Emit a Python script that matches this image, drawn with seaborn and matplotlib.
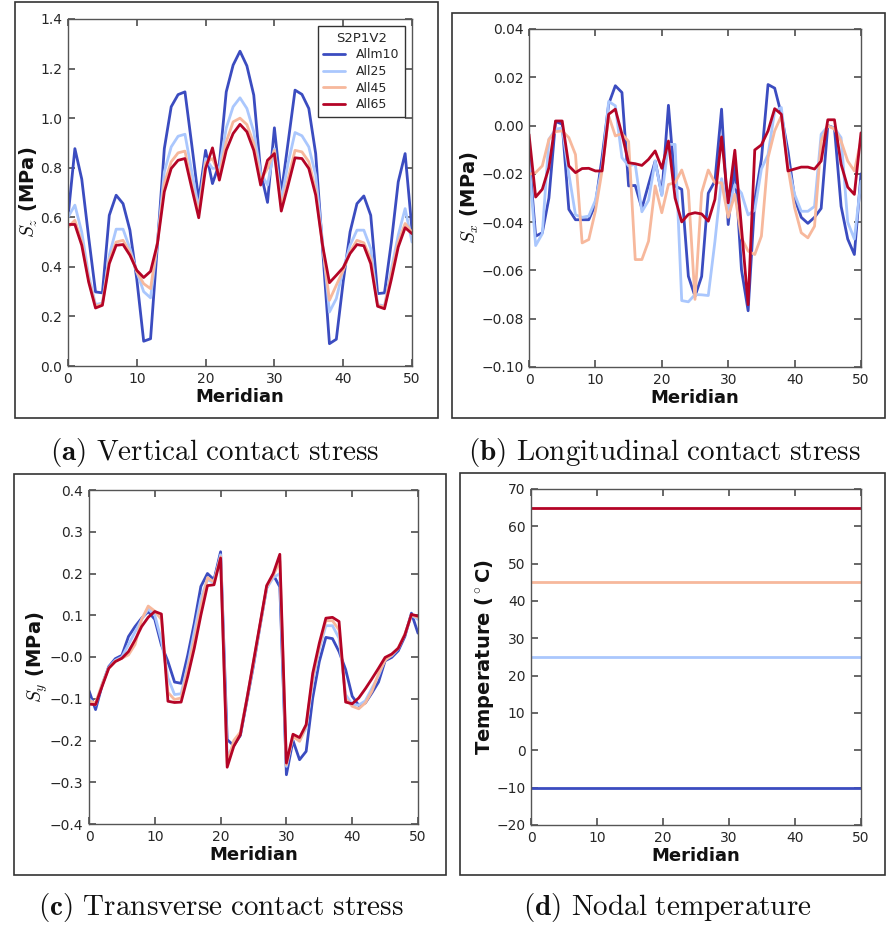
import numpy as np
import pandas as pd
import matplotlib
matplotlib.use("Agg")
import matplotlib.pyplot as plt
from matplotlib.patches import Rectangle
import seaborn as sns

# ---------------------------------------------------------------- data
series = ["Allm10", "All25", "All45", "All65"]
meridian = list(range(51))

# vertical contact stress S_z (MPa)
sz_m10 = [0.60, 0.877, 0.754, 0.52, 0.299, 0.295, 0.608, 0.689, 0.655, 0.548,
          0.35, 0.10, 0.11, 0.49, 0.877, 1.046, 1.095, 1.106, 0.89, 0.669,
          0.87, 0.736, 0.817, 1.106, 1.214, 1.27, 1.211, 1.093, 0.783, 0.66,
          0.961, 0.696, 0.904, 1.113, 1.096, 1.039, 0.857, 0.474, 0.09, 0.108,
          0.34, 0.541, 0.655, 0.686, 0.608, 0.292, 0.295, 0.50, 0.743, 0.857, 0.55]
sz_25 = [0.60, 0.649, 0.54, 0.366, 0.248, 0.254, 0.447, 0.552, 0.552, 0.474,
         0.38, 0.30, 0.275, 0.50, 0.783, 0.884, 0.927, 0.935, 0.783, 0.635,
         0.837, 0.797, 0.80, 0.96, 1.046, 1.082, 1.039, 0.945, 0.78, 0.73,
         0.877, 0.67, 0.82, 0.942, 0.929, 0.884, 0.77, 0.50, 0.218, 0.272,
         0.39, 0.487, 0.548, 0.548, 0.474, 0.248, 0.242, 0.39, 0.528, 0.635, 0.50]
sz_45 = [0.56, 0.588, 0.50, 0.35, 0.241, 0.25, 0.427, 0.50, 0.507, 0.458,
         0.38, 0.332, 0.312, 0.50, 0.736, 0.824, 0.86, 0.867, 0.73, 0.615,
         0.82, 0.837, 0.77, 0.904, 0.985, 1.0, 0.974, 0.898, 0.75, 0.797,
         0.87, 0.642, 0.756, 0.87, 0.864, 0.824, 0.709, 0.487, 0.265, 0.326,
         0.386, 0.46, 0.507, 0.497, 0.433, 0.245, 0.238, 0.373, 0.50, 0.575, 0.54]
sz_65 = [0.571, 0.571, 0.487, 0.339, 0.234, 0.245, 0.413, 0.487, 0.49, 0.447,
         0.386, 0.357, 0.382, 0.494, 0.703, 0.797, 0.83, 0.837, 0.716, 0.598,
         0.797, 0.88, 0.75, 0.87, 0.938, 0.975, 0.945, 0.87, 0.73, 0.83,
         0.857, 0.625, 0.73, 0.84, 0.837, 0.797, 0.69, 0.487, 0.336, 0.366,
         0.397, 0.454, 0.49, 0.485, 0.413, 0.241, 0.231, 0.35, 0.48, 0.558, 0.534]

# longitudinal contact stress S_x (MPa)
sx_m10 = [-0.012, -0.0458, -0.0444, -0.030, 0.0017, 0.0006, -0.0347, -0.039, -0.039, -0.039,
          -0.0327, -0.0133, 0.0089, 0.0165, 0.0137, -0.025, -0.0248, -0.0343, -0.0244, -0.0147,
          -0.0285, 0.0084, -0.025, -0.0264, -0.0624, -0.0707, -0.0625, -0.028, -0.023, 0.0068,
          -0.041, -0.016, -0.0597, -0.0767, -0.031, -0.014, 0.017, 0.0155, 0.0047, -0.0105,
          -0.030, -0.038, -0.0405, -0.038, -0.0343, 0.0, -0.001, -0.0334, -0.047, -0.0534, -0.02]
sx_25 = [-0.015, -0.0497, -0.0448, -0.0057, -0.0015, -0.001, -0.020, -0.037, -0.038, -0.0375,
         -0.031, -0.0174, 0.010, 0.0082, -0.0133, -0.0167, -0.016, -0.0357, -0.031, -0.0147,
         -0.029, -0.0078, -0.0078, -0.0725, -0.073, -0.070, -0.0701, -0.0704, -0.048, -0.022,
         -0.035, -0.0245, -0.028, -0.037, -0.035, -0.018, -0.012, 0.006, 0.0075, -0.016,
         -0.0285, -0.0355, -0.0355, -0.0335, -0.0036, -0.0003, -0.001, -0.005, -0.040, -0.047, -0.023]
sx_45 = [-0.0202, -0.0195, -0.0167, -0.0057, -0.0025, -0.0022, -0.005, -0.012, -0.0486, -0.0472,
         -0.0354, -0.0188, 0.004, -0.0043, -0.0033, -0.0066, -0.0555, -0.0555, -0.0479, -0.025,
         -0.0361, -0.0244, -0.0237, -0.0184, -0.0268, -0.072, -0.0278, -0.0184, -0.0237, -0.0237,
         -0.038, -0.0285, -0.0465, -0.052, -0.0534, -0.0458, -0.0133, -0.0022, 0.004, -0.0174,
         -0.034, -0.0444, -0.0465, -0.0417, -0.0064, 0.0, -0.0015, -0.0064, -0.0147, -0.0188, -0.006]
sx_65 = [-0.0036, -0.0296, -0.0264, -0.0174, 0.0019, 0.0019, -0.0167, -0.0195, -0.0178, -0.0177,
         -0.0188, -0.0188, 0.0047, 0.0068, -0.0036, -0.0154, -0.0158, -0.0165, -0.014, -0.0105,
         -0.0177, -0.0064, -0.030, -0.0399, -0.0368, -0.0361, -0.0366, -0.0396, -0.0306, -0.0047,
         -0.032, -0.0102, -0.0424, -0.0742, -0.0101, -0.008, -0.0022, 0.007, 0.0047, -0.0188,
         -0.018, -0.0172, -0.0172, -0.018, -0.0147, 0.0024, 0.0024, -0.016, -0.0255, -0.0285, -0.003]

# transverse contact stress S_y (MPa)
sy_m10 = [-0.081, -0.126, -0.067, -0.023, -0.004, 0.004, 0.049, 0.073, 0.093, 0.109,
          0.09, 0.029, -0.011, -0.06, -0.063, 0.004, 0.081, 0.169, 0.20, 0.185,
          0.252, -0.198, -0.212, -0.188, -0.105, -0.02, 0.075, 0.165, 0.197, 0.168,
          -0.282, -0.20, -0.246, -0.226, -0.098, -0.011, 0.047, 0.044, 0.013, -0.03,
          -0.094, -0.116, -0.11, -0.086, -0.06, -0.009, -0.001, 0.015, 0.049, 0.105, 0.057]
sy_25 = [-0.10, -0.115, -0.065, -0.025, -0.008, 0.0, 0.03, 0.06, 0.09, 0.115,
         0.10, 0.04, -0.05, -0.09, -0.088, -0.02, 0.06, 0.14, 0.185, 0.178,
         0.245, -0.24, -0.21, -0.185, -0.10, -0.015, 0.075, 0.165, 0.19, 0.20,
         -0.262, -0.19, -0.20, -0.17, -0.06, 0.02, 0.075, 0.075, 0.045, -0.09,
         -0.114, -0.115, -0.105, -0.075, -0.045, -0.005, 0.003, 0.02, 0.053, 0.10, 0.09]
sy_45 = [-0.105, -0.11, -0.065, -0.027, -0.01, -0.003, 0.005, 0.03, 0.09, 0.122,
         0.11, 0.09, -0.085, -0.102, -0.098, -0.03, 0.04, 0.12, 0.19, 0.18,
         0.24, -0.255, -0.20, -0.18, -0.10, -0.012, 0.078, 0.168, 0.195, 0.23,
         -0.258, -0.19, -0.202, -0.165, -0.05, 0.025, 0.087, 0.087, 0.065, -0.10,
         -0.118, -0.124, -0.11, -0.082, -0.04, -0.008, 0.005, 0.022, 0.055, 0.10, 0.095]
sy_65 = [-0.113, -0.114, -0.07, -0.027, -0.011, -0.003, 0.013, 0.041, 0.073, 0.095,
         0.109, 0.103, -0.106, -0.109, -0.108, -0.047, 0.021, 0.10, 0.171, 0.173,
         0.237, -0.264, -0.214, -0.186, -0.10, -0.01, 0.08, 0.171, 0.20, 0.246,
         -0.254, -0.185, -0.193, -0.162, -0.039, 0.033, 0.093, 0.095, 0.085, -0.108,
         -0.112, -0.098, -0.076, -0.052, -0.027, -0.001, 0.007, 0.021, 0.053, 0.102, 0.098]

# nodal temperature (deg C), uniform along the meridians
temp_m10 = [-10.0] * 51
temp_25 = [25.0] * 51
temp_45 = [45.0] * 51
temp_65 = [65.0] * 51

# ---------------------------------------------------------------- style
sns.set_theme(style="ticks")
plt.rcParams.update({
    "font.family": ["DejaVu Sans"],
    "mathtext.fontset": "cm",
    "axes.edgecolor": "#555555",
    "axes.linewidth": 1.0,
    "xtick.direction": "in",
    "ytick.direction": "in",
    "xtick.top": True,
    "ytick.right": True,
    "xtick.color": "#555555",
    "ytick.color": "#555555",
    "xtick.labelcolor": "#262626",
    "ytick.labelcolor": "#262626",
    "xtick.labelsize": 10,
    "ytick.labelsize": 10,
    "xtick.major.size": 5,
    "ytick.major.size": 5,
    "xtick.major.pad": 4,
    "ytick.major.pad": 4,
    "axes.labelcolor": "#111111",
})

cmap = plt.get_cmap("coolwarm")
palette = {s: cmap(v) for s, v in zip(series, [0.0, 1 / 3, 2 / 3, 1.0])}


def long_frame(cols):
    rows = []
    for name, vals in zip(series, cols):
        rows.append(pd.DataFrame({"Meridian": meridian, "value": vals, "Series": name}))
    return pd.concat(rows, ignore_index=True)


W, H = 886, 927
fig = plt.figure(figsize=(W / 100, H / 100), dpi=100)


def box(x0, y0, x1, y1):
    return [x0 / W, 1 - y1 / H, (x1 - x0) / W, (y1 - y0) / H]


panels = [
    dict(rect=box(68, 19, 412, 366), frame=(15, 2, 438, 418),
         data=[sz_m10, sz_25, sz_45, sz_65], ylim=(0.0, 1.4),
         yticks=np.arange(0.0, 1.41, 0.2), fmt="{:.1f}",
         ylabel=r"$S_z$ (MPa)", cap=(215, 452, r"$\mathbf{(a)}$ $\mathrm{Vertical\ contact\ stress}$")),
    dict(rect=box(529, 29, 861, 367), frame=(452, 13, 885, 418),
         data=[sx_m10, sx_25, sx_45, sx_65], ylim=(-0.10, 0.04),
         yticks=np.arange(-0.10, 0.041, 0.02), fmt="{:.2f}",
         ylabel=r"$S_x$ (MPa)", cap=(664, 452, r"$\mathbf{(b)}$ $\mathrm{Longitudinal\ contact\ stress}$")),
    dict(rect=box(89, 490, 418, 824), frame=(14, 474, 446, 875),
         data=[sy_m10, sy_25, sy_45, sy_65], ylim=(-0.4, 0.4),
         yticks=np.arange(-0.4, 0.41, 0.1), fmt="{:.1f}",
         ylabel=r"$S_y$ (MPa)", cap=(221, 908, r"$\mathbf{(c)}$ $\mathrm{Transverse\ contact\ stress}$")),
    dict(rect=box(531, 489, 861, 825), frame=(460, 473, 885, 875),
         data=[temp_m10, temp_25, temp_45, temp_65], ylim=(-20, 70),
         yticks=np.arange(-20, 71, 10), fmt="{:d}",
         ylabel=r"Temperature ($^\circ$C)", cap=(667, 908, r"$\mathbf{(d)}$ $\mathrm{Nodal\ temperature}$")),
]

for i, p in enumerate(panels):
    ax = fig.add_axes(p["rect"])
    df = long_frame(p["data"])
    sns.lineplot(data=df, x="Meridian", y="value", hue="Series", palette=palette,
                 linewidth=2.0, errorbar=None, ax=ax, legend=(i == 0))
    ax.set_xlim(0, 50)
    ax.set_xticks(range(0, 51, 10))
    ax.set_ylim(*p["ylim"])
    ax.set_yticks(p["yticks"])
    if p["fmt"] == "{:d}":
        ax.set_yticklabels([str(int(round(t))).replace("-", "\u2212") for t in p["yticks"]])
    else:
        ax.set_yticklabels([p["fmt"].format(t + 0.0).replace("-", "\u2212") for t in p["yticks"]])
    ax.set_xlabel("Meridian", fontsize=13, fontweight="bold", labelpad=2)
    ax.set_ylabel(p["ylabel"], fontsize=14, fontweight="bold", labelpad=0)
    for s in ax.spines.values():
        s.set_visible(True)
    if i == 0:
        handles, labels = ax.get_legend_handles_labels()
        leg = ax.legend(handles, labels, title="S2P1V2", loc="upper right",
                        fontsize=9, title_fontsize=9.5, fancybox=False,
                        edgecolor="#333333", framealpha=1, borderaxespad=0.55,
                        handlelength=1.7, handletextpad=0.9, labelspacing=0.3,
                        borderpad=0.45)
        leg.get_frame().set_linewidth(1.0)
    fx0, fy0, fx1, fy1 = p["frame"]
    fig.patches.append(Rectangle((fx0 / W, 1 - fy1 / H), (fx1 - fx0) / W, (fy1 - fy0) / H,
                                 transform=fig.transFigure, fill=False,
                                 edgecolor="#333333", linewidth=1.2))
    cx, cy, txt = p["cap"]
    fig.text(cx / W, 1 - cy / H, txt, ha="center", va="center", fontsize=21, color="#111111")

fig.savefig("out.png", dpi=100)
